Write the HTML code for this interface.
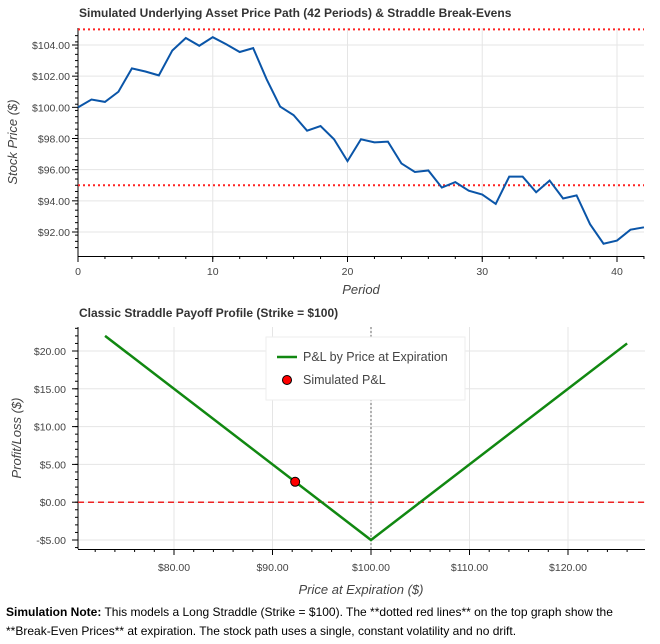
<!DOCTYPE html>
<html><head><meta charset="utf-8"><style>
body{margin:0;background:#fff;font-family:"Liberation Sans",sans-serif;}
#note{position:absolute;left:6px;top:603px;font-size:12px;line-height:19px;color:#000;width:650px}
</style></head><body>
<svg id="chart" width="660" height="644" style="position:absolute;left:0;top:0"></svg>
<div id="note"><b>Simulation Note:</b> This models a Long Straddle (Strike = $100). The **dotted red lines** on the top graph show the **Break-Even Prices** at expiration. The stock path uses a single, constant volatility and no drift.</div>
<script>
const prices=[100,100.5,100.35,101,102.5,102.3,102.05,103.65,104.45,103.95,104.5,104.05,103.55,103.8,101.8,100.05,99.5,98.5,98.8,97.95,96.55,97.95,97.75,97.8,96.4,95.85,95.95,94.85,95.2,94.65,94.4,93.8,95.55,95.55,94.55,95.3,94.15,94.35,92.5,91.25,91.45,92.15,92.3];
const breakEvens=[95,105];
const topYTicks=[92,94,96,98,100,102,104];
const topXTicks=[0,10,20,30,40];
const strike=100, premium=5;
const payoffX=[73,100,126];
const botXTicks=[80,90,100,110,120];
const botYTicks=[-5,0,5,10,15,20];
const simPrice=92.3;

const svg=document.getElementById('chart');
const NS='http://www.w3.org/2000/svg';
function el(t,a,p){const e=document.createElementNS(NS,t);for(const k in a)e.setAttribute(k,a[k]);(p||svg).appendChild(e);return e;}
function txt(x,y,s,a){const e=el('text',Object.assign({x:x,y:y,'font-size':11,fill:'#444','font-family':'Liberation Sans, sans-serif'},a||{}));e.textContent=s;return e;}

// ---- TOP CHART ----
const T={l:78,r:644,t:28,b:256};
const tx=v=>T.l+(v-0)*(617-78)/40;
const ty=v=>45+(104-v)*(232-45)/12;
let g=el('g',{});


txt(79,17,'Simulated Underlying Asset Price Path (42 Periods) & Straddle Break-Evens',{'font-weight':'bold','font-size':12,fill:'#333'});
topYTicks.forEach(v=>{el('line',{x1:T.l,x2:T.r,y1:ty(v),y2:ty(v),stroke:'#e5e5e5'});
 const t=txt(T.l-8,ty(v)+4,'$'+v.toFixed(2),{'text-anchor':'end','font-size':10.5});
 
 el('line',{x1:T.l-6,x2:T.l,y1:ty(v),y2:ty(v),stroke:'#000'});});
for(let v=91;v<=105;v+=0.4){const y=ty(v);if(y>T.t&&y<T.b)el('line',{x1:T.l-3,x2:T.l,y1:y,y2:y,stroke:'#000'});}
topXTicks.forEach(v=>{el('line',{x1:tx(v),x2:tx(v),y1:T.t,y2:T.b,stroke:'#e5e5e5'});
 const t=txt(tx(v),T.b+19,String(v),{'text-anchor':'middle','font-size':10.5});
 
 el('line',{x1:tx(v),x2:tx(v),y1:T.b,y2:T.b+6,stroke:'#000'});});
for(let v=0;v<=42;v+=2)el('line',{x1:tx(v),x2:tx(v),y1:T.b,y2:T.b+3,stroke:'#000'});
el('line',{x1:T.l,x2:T.l,y1:T.t,y2:T.b,stroke:'#000'});
el('line',{x1:T.l,x2:T.r,y1:T.b+0.5,y2:T.b+0.5,stroke:'#000'});
breakEvens.forEach(v=>{const l=el('line',{x1:T.l,x2:T.r,y1:ty(v),y2:ty(v),stroke:'#f22','stroke-width':2,'stroke-dasharray':'2,3'});
 });
const pp=el('polyline',{points:prices.map((p,i)=>tx(i)+','+ty(p)).join(' '),fill:'none',stroke:'#0a55a8','stroke-width':2});

const yl1=txt(0,0,'Stock Price ($)',{transform:'translate(17,142) rotate(-90)','text-anchor':'middle','font-size':13,'font-style':'italic'});

const xl1=txt(361,294,'Period',{'text-anchor':'middle','font-size':13,'font-style':'italic'});


// ---- BOTTOM CHART ----
const B={l:78,r:645,t:327,b:549};
const bx=v=>174+(v-80)*(568-174)/40;
const by=v=>351+(20-v)*(540-351)/25;
txt(79,317,'Classic Straddle Payoff Profile (Strike = $100)',{'font-weight':'bold','font-size':12,fill:'#333'});
botYTicks.forEach(v=>{el('line',{x1:B.l,x2:B.r,y1:by(v),y2:by(v),stroke:'#e5e5e5'});
 const t=txt(B.l-12,by(v)+4,(v<0?'-$':'$')+Math.abs(v).toFixed(2),{'text-anchor':'end','font-size':10.5});
 
 el('line',{x1:B.l-6,x2:B.l,y1:by(v),y2:by(v),stroke:'#000'});});
for(let v=-6;v<=23;v+=1){const y=by(v);if(y>B.t&&y<B.b)el('line',{x1:B.l-3,x2:B.l,y1:y,y2:y,stroke:'#000'});}
botXTicks.forEach(v=>{el('line',{x1:bx(v),x2:bx(v),y1:B.t,y2:B.b,stroke:'#e5e5e5'});
 const t=txt(bx(v),B.b+22,'$'+v.toFixed(2),{'text-anchor':'middle','font-size':10.5});
 
 el('line',{x1:bx(v),x2:bx(v),y1:B.b,y2:B.b+6,stroke:'#000'});});
for(let v=72;v<=128;v+=2){const x=bx(v);if(x>B.l&&x<B.r)el('line',{x1:x,x2:x,y1:B.b,y2:B.b+3,stroke:'#000'});}
el('line',{x1:B.l,x2:B.l,y1:B.t,y2:B.b,stroke:'#000'});
el('line',{x1:B.l,x2:B.r,y1:B.b+0.5,y2:B.b+0.5,stroke:'#000'});
const sl=el('line',{x1:bx(strike),x2:bx(strike),y1:B.t,y2:B.b,stroke:'#666','stroke-dasharray':'2,2'});

const zl=el('line',{x1:B.l,x2:B.r,y1:by(0),y2:by(0),stroke:'#e22','stroke-width':1.5,'stroke-dasharray':'6,4'});

const pl=el('polyline',{points:payoffX.map(s=>bx(s)+','+by(Math.abs(s-strike)-premium)).join(' '),fill:'none',stroke:'#118811','stroke-width':2.5});

const dot=el('circle',{cx:bx(simPrice),cy:by(Math.abs(simPrice-strike)-premium),r:4.5,fill:'#f00',stroke:'#000','stroke-width':1});

// legend
const lg=el('g',{});

el('rect',{x:266,y:337,width:199,height:63,fill:'#fff',stroke:'#eee'},lg);
el('line',{x1:277,x2:297,y1:357,y2:357,stroke:'#118811','stroke-width':2.5},lg);
const le1=txt(303,361,'P&L by Price at Expiration',{'font-size':12.5},lg);

el('circle',{cx:287,cy:380,r:4.5,fill:'#f00',stroke:'#000'},lg);
const le2=txt(303,384,'Simulated P&L',{'font-size':12.5},lg);

const yl2=txt(0,0,'Profit/Loss ($)',{transform:'translate(21,438) rotate(-90)','text-anchor':'middle','font-size':13,'font-style':'italic'});

const xl2=txt(361,594,'Price at Expiration ($)',{'text-anchor':'middle','font-size':13,'font-style':'italic'});

</script>
</body></html>
